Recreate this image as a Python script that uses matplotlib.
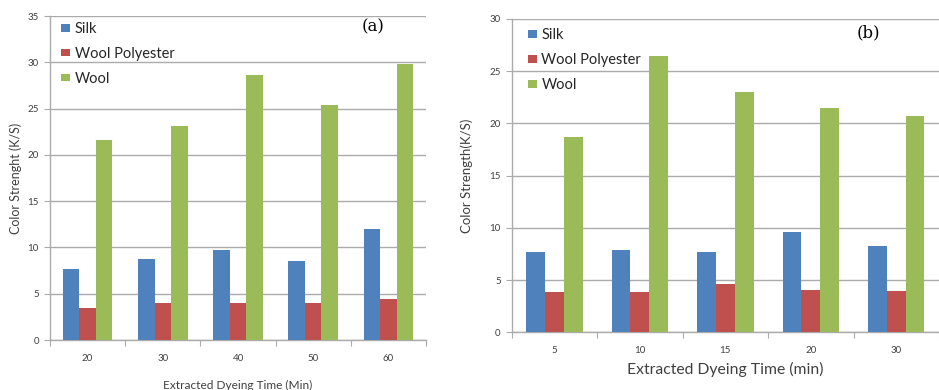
import matplotlib
matplotlib.use("Agg")
import matplotlib.pyplot as plt
import numpy as np

series_names = ["Silk", "Wool Polyester", "Wool"]
colors = ["#4F81BD", "#C0504D", "#9BBB59"]

# Panel (a)
times_a = ["20", "30", "40", "50", "60"]
silk_a = [7.7, 8.8, 9.75, 8.5, 12.0]
woolpoly_a = [3.45, 4.05, 4.05, 4.05, 4.45]
wool_a = [21.6, 23.15, 28.6, 25.4, 29.85]

# Panel (b)
times_b = ["5", "10", "15", "20", "30"]
silk_b = [7.7, 7.9, 7.65, 9.6, 8.3]
woolpoly_b = [3.85, 3.85, 4.6, 4.05, 3.95]
wool_b = [18.7, 26.5, 23.0, 21.5, 20.75]

plt.rcParams['font.family'] = ['Lato', 'DejaVu Sans']

fig = plt.figure(figsize=(9.39, 3.90), dpi=100)
axA = fig.add_axes([50/939, 50/390, 376/939, 324/390])
axB = fig.add_axes([511.7/939, 57.7/390, 427.3/939, 313.3/390])

grid_c = "#ababab"
text_c = "#404040"


def draw(ax, cats, data, ymax, label_letter, xlabel, ylabel, xlim_right,
         tick_fs, xlab_fs, ylab_fs, letter_xy, leg_anchor, leg_fs, lab_pad, ylab_pad):
    x = np.arange(len(cats))
    w = 0.22
    for i, (vals, c, n) in enumerate(zip(data, colors, series_names)):
        ax.bar(x + (i - 1) * w, vals, width=w, color=c, label=n, zorder=3)
    ax.set_ylim(0, ymax)
    ax.set_xlim(-0.5, xlim_right)
    ax.set_yticks(np.arange(0, ymax + 0.1, 5))
    ax.yaxis.grid(True, color=grid_c, linewidth=1.0, zorder=0)
    ax.set_axisbelow(True)
    for s in ["top", "right"]:
        ax.spines[s].set_visible(False)
    for s in ["left", "bottom"]:
        ax.spines[s].set_color(grid_c)
        ax.spines[s].set_linewidth(1.0)
    ax.set_xticks(np.arange(-0.5, len(cats), 1.0))
    ax.set_xticklabels([])
    ax.set_xticks(x, minor=True)
    ax.set_xticklabels(cats, minor=True)
    ax.tick_params(axis="x", which="major", length=4, color=grid_c, direction="out")
    ax.tick_params(axis="x", which="minor", length=0, pad=10, labelsize=tick_fs, labelcolor=text_c)
    ax.tick_params(axis="y", length=4, color=grid_c, labelsize=tick_fs, labelcolor=text_c, pad=4)
    ax.set_xlabel(xlabel, fontsize=xlab_fs, color=text_c, labelpad=lab_pad)
    ax.set_ylabel(ylabel, fontsize=ylab_fs, color=text_c, labelpad=ylab_pad)
    ax.text(letter_xy[0], letter_xy[1], label_letter, transform=ax.transAxes,
            fontsize=12, family="DejaVu Serif", color="black", ha="center", va="center")
    leg = ax.legend(loc="upper left", bbox_to_anchor=leg_anchor, frameon=False,
                    fontsize=leg_fs, handlelength=0.6, handleheight=0.45,
                    handletextpad=0.3, labelspacing=0.75, borderaxespad=0)
    for t in leg.get_texts():
        t.set_color("#262626")


draw(axA, times_a, [silk_a, woolpoly_a, wool_a], 35, "(a)",
     "Extracted Dyeing Time (Min)", "Color Strenght (K/S)", 4.5,
     7, 8.6, 9, (0.859, 0.965), (0.015, 1.0), 10.5, 12, 4)
draw(axB, times_b, [silk_b, woolpoly_b, wool_b], 30, "(b)",
     "Extracted Dyeing Time (min)", "Color Strength(K/S)", -0.5 + 1282 / 262,
     7, 11.3, 9.5, (0.835, 0.955), (0.025, 0.99), 10.5, 5, 12)

fig.savefig("out.png", dpi=100)
